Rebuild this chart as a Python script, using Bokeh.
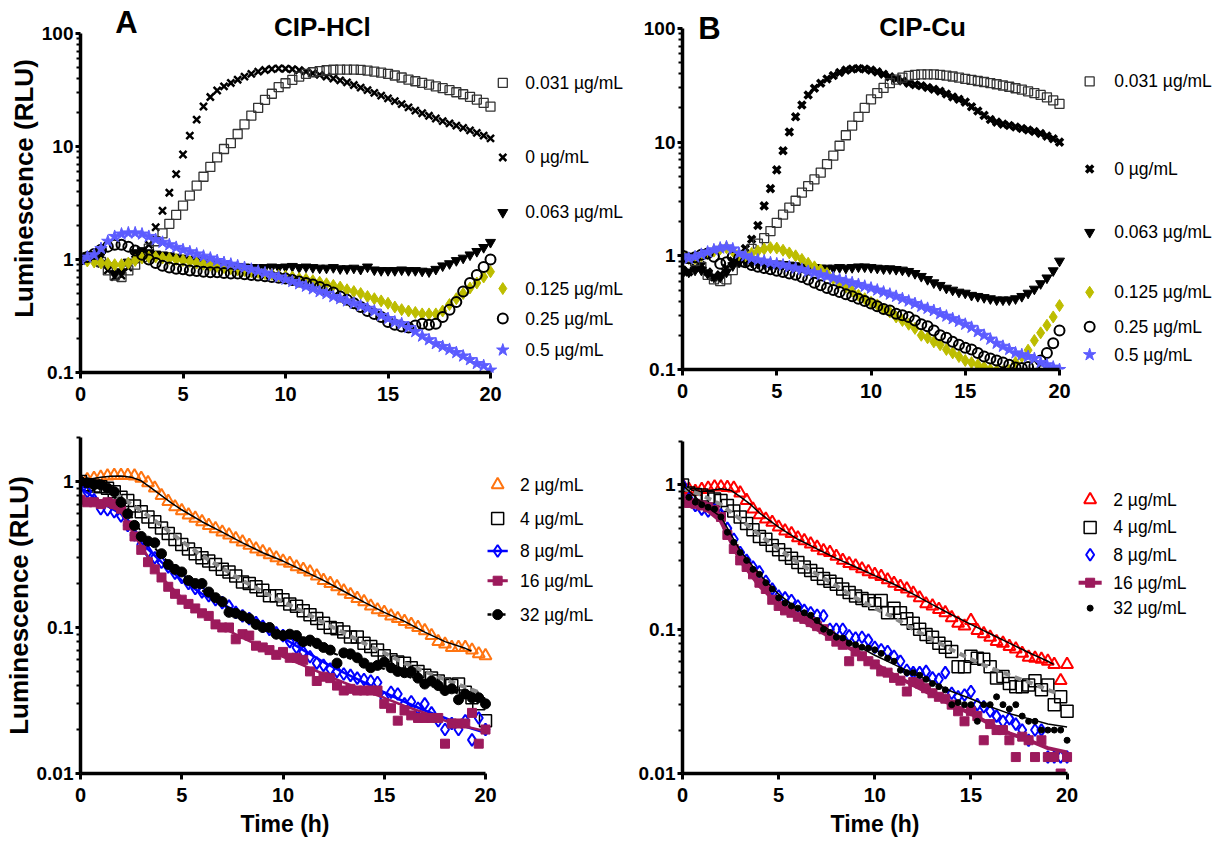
import math
from bokeh.plotting import figure
from bokeh.models import Range1d, FixedTicker, CustomJSTickFormatter, Title
from bokeh.layouts import row, column
from bokeh.embed import file_html
from bokeh.resources import INLINE
from bokeh.core.properties import value

# time grid (h): readings every 20 min
T = [round(i / 3, 4) for i in range(61)]

# ---------------- Panel A (top): CIP-HCl ----------------
a_0 = [1.0,
       1.05, 1.1, 0.92, 0.8, 0.7, 0.72, 0.85, 1.0, 1.15, 1.35, 1.93, 2.7,
       3.9, 5.7, 8.5, 12.5, 17.3, 22.6, 27.4, 31.3, 34, 36.5, 39, 41.5,
       44, 46, 47.5, 48.5, 49, 48.8, 48.3, 47.3, 46, 44.5, 43, 41.5,
       40, 38.5, 37, 35, 33.2, 31.5, 29.8, 28.2, 26.7, 25.2, 23.7, 22.2,
       20.8, 19.7, 18.7, 17.7, 16.8, 16, 15.3, 14.6, 13.9, 13.2, 12.5, 11.8]
a_031 = [1.0,
         1.05, 1.05, 0.95, 0.8, 0.72, 0.7, 0.8, 0.9, 1.05, 1.25, 1.45, 1.7,
         2.07, 2.48, 3.0, 3.68, 4.5, 5.4, 6.6, 8.0, 9.5, 10.7, 12.9, 15.7,
         18.8, 22, 25.9, 29.3, 33.5, 36.3, 38.9, 41.6, 44, 45.4, 46.5, 47.3,
         47.8, 48, 48, 48, 47.6, 47, 46, 45, 44, 42.5, 40.8, 39,
         37.8, 36.5, 35.3, 34, 32.8, 31.5, 30.2, 29, 27.5, 26, 24.3, 22.5]
a_063 = [1.0,
         1.05, 1.1, 1.1, 0.88, 0.75, 0.78, 0.95, 1.15, 1.2, 1.15, 1.12, 1.1,
         1.08, 1.05, 1.03, 1.0, 0.98, 0.95, 0.93, 0.92, 0.9, 0.88, 0.87, 0.86,
         0.85, 0.85, 0.85, 0.86, 0.85, 0.86, 0.87, 0.85, 0.86, 0.85, 0.84, 0.84,
         0.85, 0.83, 0.83, 0.84, 0.82, 0.86, 0.81, 0.8, 0.8, 0.8, 0.81, 0.8,
         0.8, 0.79, 0.78, 0.82, 0.88, 0.92, 0.98, 1.03, 1.1, 1.18, 1.28, 1.42]
a_125 = [1.0,
         0.97, 0.95, 0.93, 0.92, 0.9, 0.9, 0.93, 0.98, 1.03, 1.05, 1.05, 1.03,
         1.02, 1.0, 0.98, 0.96, 0.93, 0.91, 0.89, 0.87, 0.85, 0.83, 0.81, 0.8,
         0.78, 0.77, 0.75, 0.74, 0.72, 0.71, 0.7, 0.68, 0.67, 0.65, 0.63, 0.61,
         0.59, 0.57, 0.54, 0.52, 0.5, 0.47, 0.45, 0.43, 0.41, 0.38, 0.36, 0.35,
         0.34, 0.33, 0.33, 0.33, 0.35, 0.4, 0.45, 0.5, 0.56, 0.62, 0.7, 0.78]
a_25 = [1.0,
        1.05, 1.12, 1.22, 1.3, 1.35, 1.35, 1.3, 1.2, 1.1, 1.0, 0.93, 0.88,
        0.85, 0.83, 0.82, 0.8, 0.79, 0.78, 0.77, 0.77, 0.76, 0.75, 0.75, 0.74,
        0.73, 0.72, 0.71, 0.7, 0.69, 0.68, 0.66, 0.64, 0.62, 0.6, 0.57, 0.54,
        0.51, 0.47, 0.44, 0.41, 0.38, 0.35, 0.33, 0.31, 0.28, 0.265, 0.255, 0.25,
        0.26, 0.27, 0.265, 0.27, 0.31, 0.36, 0.42, 0.52, 0.62, 0.73, 0.86, 1.0]
a_5 = [1.0,
       1.05, 1.1, 1.25, 1.45, 1.6, 1.68, 1.72, 1.72, 1.68, 1.6, 1.5, 1.42,
       1.35, 1.28, 1.22, 1.17, 1.12, 1.07, 1.03, 0.98, 0.94, 0.91, 0.88, 0.85,
       0.82, 0.79, 0.76, 0.73, 0.7, 0.67, 0.64, 0.61, 0.58, 0.55, 0.52, 0.5,
       0.47, 0.45, 0.43, 0.41, 0.39, 0.37, 0.35, 0.32, 0.3, 0.28, 0.27, 0.25,
       0.23, 0.21, 0.195, 0.18, 0.17, 0.16, 0.15, 0.14, 0.13, 0.12, 0.115, 0.105]

# ---------------- Panel B (top): CIP-Cu ----------------
b_0 = [0.75,
       0.72, 0.78, 0.82, 0.72, 0.65, 0.68, 0.78, 0.9, 1.0, 1.16, 1.4, 1.85,
       2.75, 3.9, 5.7, 8.4, 12.3, 16.7, 21.2, 26, 29.8, 33, 36, 38.5,
       41, 43, 44, 44.5, 44, 43, 41.5, 39.5, 37.5, 36, 34.5, 33,
       32, 31.3, 30.3, 29.2, 28, 26.5, 25, 23.8, 22.5, 20.5, 18.8, 17.2,
       15.8, 15, 14.4, 14, 13.6, 13.2, 12.8, 12.4, 11.9, 11.3, 10.7, 10]
b_031 = [1.0,
         0.95, 0.9, 0.8, 0.68, 0.62, 0.6, 0.62, 0.75, 0.88, 1.0, 1.15, 1.28,
         1.43, 1.65, 1.95, 2.3, 2.65, 3.05, 3.6, 4.1, 4.7, 5.4, 6.4, 7.6,
         9.3, 11.5, 14, 16.7, 20, 23.8, 27, 30, 33, 35.5, 37, 38.3,
         39, 39.5, 39.5, 39.5, 39, 38.5, 37.8, 37, 36, 35.3, 34.5, 33.8,
         33, 32.3, 31.5, 30.7, 29.8, 29, 28, 27, 26, 24.8, 23.3, 21.7]
b_063 = [0.7,
         0.72, 0.75, 0.75, 0.7, 0.65, 0.65, 0.72, 0.82, 0.88, 0.9, 0.88, 0.86,
         0.85, 0.84, 0.85, 0.84, 0.83, 0.82, 0.8, 0.79, 0.79, 0.78, 0.78, 0.78,
         0.79, 0.78, 0.79, 0.8, 0.8, 0.79, 0.78, 0.77, 0.77, 0.76, 0.75, 0.73,
         0.7, 0.66, 0.62, 0.58, 0.55, 0.52, 0.5, 0.48, 0.47, 0.45, 0.44, 0.43,
         0.42, 0.41, 0.41, 0.41, 0.42, 0.44, 0.47, 0.51, 0.57, 0.64, 0.74, 0.9]
b_125 = [1.0,
         0.95, 0.95, 1.0, 1.05, 1.1, 1.15, 1.18, 1.1, 1.02, 1.0, 1.05, 1.1,
         1.15, 1.18, 1.17, 1.12, 1.06, 1.0, 0.93, 0.86, 0.8, 0.75, 0.7, 0.63,
         0.58, 0.53, 0.49, 0.45, 0.42, 0.39, 0.37, 0.34, 0.32, 0.29, 0.27, 0.25,
         0.23, 0.2, 0.19, 0.175, 0.165, 0.15, 0.14, 0.13, 0.12, 0.115, 0.11, 0.105,
         0.1, 0.098, 0.096, 0.098, 0.115, 0.13, 0.148, 0.18, 0.21, 0.245, 0.29, 0.365]
b_25 = [1.0,
        0.95, 0.97, 1.02, 1.05, 0.98, 0.85, 0.88, 0.98, 0.95, 0.88, 0.83, 0.8,
        0.78, 0.76, 0.74, 0.72, 0.7, 0.68, 0.65, 0.62, 0.58, 0.55, 0.52, 0.5,
        0.48, 0.46, 0.44, 0.42, 0.4, 0.38, 0.36, 0.34, 0.33, 0.31, 0.3, 0.29,
        0.27, 0.25, 0.24, 0.22, 0.2, 0.19, 0.175, 0.165, 0.155, 0.15, 0.14, 0.13,
        0.125, 0.12, 0.115, 0.11, 0.104, 0.103, 0.105, 0.107, 0.12, 0.14, 0.17, 0.22]
b_5 = [1.0,
       0.95, 0.98, 1.03, 1.08, 1.13, 1.17, 1.2, 1.15, 1.05, 1.0, 0.95, 0.92,
       0.9, 0.87, 0.85, 0.83, 0.8, 0.78, 0.76, 0.73, 0.71, 0.68, 0.66, 0.64,
       0.62, 0.6, 0.58, 0.56, 0.54, 0.52, 0.5, 0.48, 0.46, 0.44, 0.42, 0.4,
       0.38, 0.36, 0.345, 0.33, 0.31, 0.295, 0.28, 0.265, 0.25, 0.235, 0.215, 0.2,
       0.185, 0.17, 0.16, 0.15, 0.14, 0.135, 0.13, 0.125, 0.115, 0.11, 0.105, 0.1]

# ---------------- Panel A (bottom) ----------------
c_2 = [1.0,
       1.03, 1.05, 1.07, 1.09, 1.1, 1.1, 1.1, 1.09, 1.05, 0.98, 0.9, 0.8,
       0.73, 0.67, 0.63, 0.59, 0.56, 0.53, 0.5, 0.475, 0.45, 0.43, 0.405, 0.385,
       0.365, 0.345, 0.33, 0.315, 0.3, 0.285, 0.275, 0.26, 0.25, 0.24, 0.225, 0.21,
       0.2, 0.19, 0.178, 0.168, 0.158, 0.15, 0.14, 0.132, 0.127, 0.12, 0.115, 0.11,
       0.105, 0.1, 0.095, 0.088, 0.08, 0.077, 0.073, 0.073, 0.073, 0.07, 0.066, 0.064]
c_4 = [1.0,
       0.95, 0.93, 0.92, 0.9, 0.85, 0.78, 0.74, 0.68, 0.62, 0.57, 0.53, 0.48,
       0.44, 0.4, 0.37, 0.345, 0.32, 0.3, 0.285, 0.27, 0.25, 0.24, 0.225, 0.205,
       0.2, 0.19, 0.18, 0.165, 0.165, 0.155, 0.145, 0.14, 0.13, 0.122, 0.115, 0.107,
       0.1, 0.098, 0.093, 0.086, 0.086, 0.078, 0.074, 0.07, 0.064, 0.06, 0.058, 0.057,
       0.053, 0.05, 0.047, 0.045, 0.043, 0.041, 0.04, 0.041, 0.036, 0.033, 0.03, 0.023]
c_8 = [0.95,
       0.85, 0.75, 0.65, 0.64, 0.62, 0.58, 0.5, 0.43, 0.37, 0.33, 0.3, 0.28,
       0.26, 0.235, 0.22, 0.2, 0.185, 0.175, 0.165, 0.155, 0.148, 0.14, 0.127, 0.12,
       0.115, 0.108, 0.102, 0.097, 0.092, 0.088, 0.08, 0.073, 0.068, 0.063, 0.057, 0.055,
       0.052, 0.05, 0.048, 0.047, 0.045, 0.044, 0.043, 0.042, 0.033, 0.036, 0.035, 0.03,
       0.031, 0.028, 0.03, 0.026, 0.023, 0.02, 0.022, 0.02, 0.023, 0.017, 0.024, 0.02]
c_16 = [0.75,
        0.72, 0.72, 0.7, 0.72, 0.7, 0.65, 0.5, 0.42, 0.34, 0.28, 0.25, 0.22,
        0.19, 0.17, 0.155, 0.145, 0.135, 0.125, 0.12, 0.105, 0.1, 0.1, 0.083, 0.09,
        0.088, 0.075, 0.073, 0.07, 0.065, 0.068, 0.062, 0.062, 0.06, 0.05, 0.043, 0.046,
        0.045, 0.04, 0.037, 0.038, 0.037, 0.037, 0.037, 0.037, 0.03, 0.028, 0.023, 0.027,
        0.025, 0.024, 0.024, 0.024, 0.024, 0.016, 0.022, 0.022, 0.022, 0.026, 0.016, 0.02]
c_32 = [1.0,
        0.98, 0.95, 0.95, 0.9, 0.85, 0.72, 0.6, 0.5, 0.42, 0.39, 0.38, 0.32,
        0.27, 0.25, 0.24, 0.21, 0.2, 0.2, 0.175, 0.16, 0.15, 0.127, 0.125, 0.12,
        0.115, 0.105, 0.1, 0.1, 0.09, 0.088, 0.09, 0.088, 0.08, 0.082, 0.078, 0.073,
        0.07, 0.057, 0.067, 0.066, 0.062, 0.057, 0.053, 0.055, 0.058, 0.053, 0.05, 0.049,
        0.05, 0.045, 0.041, 0.043, 0.04, 0.037, 0.038, 0.032, 0.035, 0.033, 0.033, 0.03]

# ---------------- Panel B (bottom) ----------------
d_2 = [1.0,
       0.93, 0.9, 0.93, 0.95, 0.97, 0.97, 0.96, 0.95, 0.88, 0.78, 0.68, 0.62,
       0.58, 0.55, 0.51, 0.48, 0.46, 0.43, 0.41, 0.39, 0.37, 0.35, 0.34, 0.32,
       0.3, 0.285, 0.275, 0.262, 0.25, 0.24, 0.232, 0.22, 0.208, 0.198, 0.19, 0.178,
       0.165, 0.15, 0.145, 0.137, 0.13, 0.12, 0.11, 0.105, 0.115, 0.098, 0.093, 0.088,
       0.082, 0.08, 0.076, 0.073, 0.068, 0.064, 0.063, 0.062, 0.06, 0.057, 0.044, 0.057]
d_4 = [1.0,
       0.88, 0.86, 0.85, 0.82, 0.8, 0.78, 0.72, 0.66, 0.6, 0.54, 0.49, 0.44,
       0.42, 0.38, 0.355, 0.33, 0.31, 0.29, 0.27, 0.255, 0.24, 0.225, 0.215, 0.205,
       0.19, 0.18, 0.17, 0.163, 0.158, 0.15, 0.158, 0.13, 0.14, 0.13, 0.118, 0.11,
       0.1, 0.092, 0.088, 0.08, 0.075, 0.07, 0.055, 0.055, 0.065, 0.063, 0.062, 0.055,
       0.046, 0.047, 0.042, 0.04, 0.04, 0.041, 0.044, 0.038, 0.041, 0.03, 0.034, 0.027]
d_8 = [1.0,
       0.8, 0.72, 0.68, 0.66, 0.67, 0.62, 0.5, 0.42, 0.34, 0.3, 0.27, 0.25,
       0.215, 0.19, 0.17, 0.165, 0.158, 0.145, 0.135, 0.13, 0.125, 0.124, 0.1, 0.1,
       0.1, 0.09, 0.087, 0.088, 0.084, 0.075, 0.072, 0.07, 0.065, 0.06, 0.052, 0.05,
       0.05, 0.051, 0.046, 0.045, 0.05, 0.036, 0.034, 0.035, 0.037, 0.03, 0.029, 0.027,
       0.025, 0.023, 0.024, 0.022, 0.02, 0.017, 0.02, 0.02, 0.013, 0.013, 0.013, 0.013]
d_16 = [0.8,
        0.75, 0.74, 0.72, 0.7, 0.67, 0.6, 0.45, 0.36, 0.3, 0.27, 0.24, 0.21,
        0.19, 0.16, 0.145, 0.135, 0.13, 0.122, 0.118, 0.112, 0.105, 0.1, 0.09, 0.082,
        0.078, 0.06, 0.07, 0.065, 0.06, 0.057, 0.051, 0.05, 0.046, 0.044, 0.037, 0.043,
        0.042, 0.039, 0.036, 0.034, 0.033, 0.03, 0.027, 0.023, 0.027, 0.025, 0.017, 0.022,
        0.02, 0.02, 0.017, 0.013, 0.018, 0.017, 0.013, 0.017, 0.013, 0.013, 0.01, 0.013]
d_32 = [1.0,
        0.82, 0.76, 0.73, 0.7, 0.68, 0.6, 0.47, 0.4, 0.34, 0.3, 0.26, 0.24,
        0.21, 0.19, 0.165, 0.152, 0.145, 0.14, 0.13, 0.125, 0.115, 0.1, 0.095, 0.088,
        0.087, 0.08, 0.078, 0.075, 0.074, 0.072, 0.068, 0.063, 0.06, 0.052, 0.05, 0.05,
        0.048, 0.045, 0.042, 0.04, 0.038, 0.03, 0.031, 0.03, 0.03, 0.023, 0.03, 0.03,
        0.034, 0.03, 0.028, 0.03, 0.025, 0.023, 0.023, 0.02, 0.02, 0.02, 0.02, 0.017]

# ---------------- fitted curves (bottom panels) ----------------
TF_H = [0, 0.5, 1, 1.5, 2, 2.5, 3, 3.5, 4, 4.5, 5, 6, 7, 8, 9, 10, 11, 12, 13, 14,
        15, 16, 17, 18, 19, 19.3]
TF = list(range(21))
fit_c2 = [1.0, 1.04, 1.07, 1.085, 1.09, 1.07, 1.01, 0.9, 0.8, 0.71, 0.64, 0.53, 0.45,
          0.38, 0.325, 0.285, 0.245, 0.21, 0.177, 0.149, 0.127, 0.11, 0.093, 0.08, 0.072, 0.069]
fit_c4 = [0.98, 0.9, 0.78, 0.63, 0.5, 0.39, 0.31, 0.255, 0.21, 0.175, 0.15, 0.128, 0.108,
          0.092, 0.078, 0.067, 0.057, 0.05, 0.044, 0.039, 0.036]
fit_c8 = [0.9, 0.72, 0.6, 0.38, 0.28, 0.21, 0.17, 0.145, 0.122, 0.103, 0.085, 0.07, 0.058,
          0.049, 0.042, 0.036, 0.031, 0.027, 0.024, 0.021, 0.019]
fit_c16 = [0.75, 0.72, 0.62, 0.36, 0.22, 0.16, 0.125, 0.1, 0.085, 0.073, 0.063, 0.055, 0.048,
           0.042, 0.037, 0.033, 0.029, 0.026, 0.023, 0.021, 0.0195]
fit_c32 = [1.0, 0.93, 0.75, 0.45, 0.31, 0.23, 0.18, 0.145, 0.12, 0.1, 0.088, 0.078, 0.07,
           0.063, 0.057, 0.052, 0.047, 0.042, 0.038, 0.034, 0.031]
fit_d2 = [1.0, 0.92, 0.9, 0.92, 0.94, 0.92, 0.83, 0.74, 0.64, 0.57, 0.51, 0.42, 0.36,
          0.31, 0.27, 0.235, 0.205, 0.175, 0.148, 0.126, 0.108, 0.093, 0.08, 0.069, 0.06, 0.057]
fit_d4 = [0.95, 0.85, 0.73, 0.58, 0.45, 0.36, 0.29, 0.24, 0.2, 0.165, 0.14, 0.12, 0.1,
          0.085, 0.072, 0.062, 0.054, 0.048, 0.043, 0.038, 0.036]
fit_d16 = [0.8, 0.72, 0.56, 0.3, 0.2, 0.148, 0.12, 0.1, 0.083, 0.07, 0.058, 0.048, 0.041,
           0.035, 0.03, 0.026, 0.022, 0.019, 0.017, 0.015, 0.014]
fit_d32 = [1.0, 0.75, 0.6, 0.35, 0.24, 0.175, 0.138, 0.112, 0.092, 0.078, 0.066, 0.057,
           0.049, 0.043, 0.037, 0.033, 0.029, 0.026, 0.024, 0.022, 0.021]

# ---------------- legends / titles ----------------
top_labels = ["0.031 µg/mL", "0 µg/mL", "0.063 µg/mL", "0.125 µg/mL", "0.25 µg/mL", "0.5 µg/mL"]
bot_labels = ["2 µg/mL", "4 µg/mL", "8 µg/mL", "16 µg/mL", "32 µg/mL"]
legA_y = [36.5, 8.0, 2.61, 0.553, 0.30, 0.158]
legB_y = [34.2, 5.8, 1.61, 0.478, 0.238, 0.135]
legC_y = [0.949, 0.557, 0.334, 0.209, 0.1225]
legD_y = [0.79, 0.507, 0.328, 0.21, 0.14]

FONT = "Liberation Sans"
YELLOW = "#bdbd00"
STAR = "#5c5cff"
ORANGE = "#ff7410"
MAGENTA = "#9c1a5c"
GRAY = "#8a8a8a"

top_minor = [k * 10.0 ** e for e in (-1, 0, 1) for k in range(2, 10)]
bot_minor = [k * 10.0 ** e for e in (-2, -1) for k in range(2, 10)] + [2.0]


def base_fig(width, height, left, top, bottom, xend, yr, ybounds, majors, minors, ystand):
    p = figure(width=width, height=height, x_range=Range1d(0, xend), y_range=Range1d(*yr),
               y_axis_type="log", output_backend="svg", toolbar_location=None,
               min_border_left=left, min_border_right=0, min_border_top=top,
               min_border_bottom=bottom)
    p.outline_line_color = None
    p.xgrid.visible = False
    p.ygrid.visible = False
    p.background_fill_color = "white"
    p.border_fill_color = "white"
    for ax in (p.xaxis[0], p.yaxis[0]):
        ax.axis_line_width = 3.5
        ax.axis_line_color = "black"
        ax.major_tick_line_width = 3
        ax.major_tick_in = 0
        ax.minor_tick_line_width = 2
        ax.minor_tick_out = 4
        ax.minor_tick_in = 0
        ax.major_label_text_font = FONT
        ax.major_label_text_font_style = "bold"
        ax.major_label_text_color = "black"
    xa = p.xaxis[0]
    xa.bounds = (0, 20)
    xa.ticker = FixedTicker(ticks=[0, 5, 10, 15, 20], minor_ticks=[])
    xa.major_label_standoff = 8
    xa.major_tick_out = 6
    xa.major_label_text_font_size = "20px"
    ya = p.yaxis[0]
    ya.bounds = ybounds
    ya.ticker = FixedTicker(ticks=majors, minor_ticks=minors)
    ya.formatter = CustomJSTickFormatter(code="return String(tick)")
    ya.major_label_standoff = ystand
    ya.major_tick_out = 5
    ya.major_label_text_font_size = "19px"
    return p


def title(p, text, side, size, align="center", offset=0, standoff=0):
    p.add_layout(Title(text=text, align=align, offset=offset, standoff=standoff,
                       text_font=FONT, text_font_style="bold", text_font_size=size,
                       text_color="black"), side)


def big_text(p, x, y, text, size):
    p.text(x=[x], y=[y], text=[text], text_font=value(FONT), text_font_style="bold",
           text_font_size=value(size), text_align="center", text_baseline="middle",
           text_color="black")


def leg_text(p, x, ys, labels):
    p.text(x=[x] * len(ys), y=ys, text=labels, text_font=value(FONT),
           text_font_size=value("17.5px"), text_baseline="middle", text_align="left",
           text_color="black")


# ======== top A ========
pa = base_fig(630, 412, 80, 4, 40, 550 / 20.5, (0.1, 180.6), (0.1, 100),
              [0.1, 1, 10, 100], top_minor, 2)
top_specs_a = [
    (a_031, dict(marker="square", size=9, line_color="#333333", line_width=1.3, fill_color=None)),
    (a_0, dict(marker="x", size=10, line_color="black", line_width=2.5)),
    (a_063, dict(marker="inverted_triangle", size=10, color="black")),
    (a_125, dict(marker="diamond", size=12, color=YELLOW)),
    (a_25, dict(marker="circle", size=10, line_color="black", line_width=2, fill_color=None)),
    (a_5, dict(marker="star", size=13, color=STAR)),
]
for ys, kw in [top_specs_a[1], top_specs_a[0]] + top_specs_a[2:]:
    pa.scatter(x=T, y=ys, **kw)
for (ys, kw), ly in zip(top_specs_a, legA_y):
    pa.scatter(x=[20.6], y=[ly], **kw)
leg_text(pa, 21.7, legA_y, top_labels)
big_text(pa, 2.24, 125, "A", "31px")
big_text(pa, 11.8, 115, "CIP-HCl", "26px")
title(pa, "Luminescence (RLU)", "left", "26px", offset=-8)

# ======== top B ========
pb = base_fig(590, 412, 52, 4, 43, 538 / 18.85, (0.1, 162.5), (0.1, 100),
              [0.1, 1, 10, 100], top_minor, 2)
top_specs_b = [
    (b_031, dict(marker="square", size=9, line_color="#333333", line_width=1.3, fill_color=None)),
    (b_0, dict(marker="x", size=10, line_color="black", line_width=3.5)),
    (b_063, dict(marker="inverted_triangle", size=10, color="black")),
    (b_125, dict(marker="diamond", size=12, color=YELLOW)),
    (b_25, dict(marker="circle", size=10, line_color="black", line_width=2, fill_color=None)),
    (b_5, dict(marker="star", size=13, color=STAR)),
]
for ys, kw in [top_specs_b[1], top_specs_b[0]] + top_specs_b[2:]:
    pb.scatter(x=T, y=ys, **kw)
for (ys, kw), ly in zip(top_specs_b, legB_y):
    pb.scatter(x=[21.6], y=[ly], **kw)
leg_text(pb, 22.9, legB_y, top_labels)
big_text(pb, 1.43, 100, "B", "31px")
big_text(pb, 12.73, 104, "CIP-Cu", "26px")

# ======== bottom A ========
pc = base_fig(630, 428, 80, 25, 66, 550 / 20.25, (0.01, 2), (0.01, 2),
              [0.01, 0.1, 1], bot_minor, 2)
s_c2 = dict(marker="triangle", size=12, line_color=ORANGE, line_width=2, fill_color=None)
s_c4 = dict(marker="square", size=12, line_color="black", line_width=1.5, fill_color=None)
s_c8 = dict(marker="diamond", size=12, line_color="blue", line_width=2, fill_color=None)
s_c16 = dict(marker="square", size=9, color=MAGENTA)
s_c32 = dict(marker="circle", size=10, color="black")
pc.scatter(x=T, y=c_2, **s_c2)
pc.line(x=TF_H, y=fit_c2, line_color="black", line_width=1.5)
pc.scatter(x=T, y=c_4, **s_c4)
pc.line(x=TF[:20] + [19.67], y=fit_c4, line_color=GRAY, line_width=4, line_dash="7 5")
pc.scatter(x=T, y=c_8, **s_c8)
pc.line(x=TF, y=fit_c8, line_color="blue", line_width=2.5)
pc.scatter(x=T, y=c_16, **s_c16)
pc.line(x=TF, y=fit_c16, line_color=MAGENTA, line_width=2.5)
pc.scatter(x=T, y=c_32, **s_c32)
pc.line(x=TF, y=fit_c32, line_color="black", line_width=2, line_dash="4 3")
for kw, ly, has_line in zip([s_c2, s_c4, s_c8, s_c16, s_c32], legC_y,
                            [None, None, ("blue", 2.5, "solid"), (MAGENTA, 3, "solid"),
                             ("black", 2.5, "4 3")]):
    if has_line:
        pc.line(x=[20.1, 21.1], y=[ly, ly], line_color=has_line[0], line_width=has_line[1],
                line_dash=has_line[2])
    pc.scatter(x=[20.6], y=[ly], **kw)
leg_text(pc, 21.7, legC_y, bot_labels)
title(pc, "Luminescence (RLU)", "left", "26px", offset=3)
title(pc, "Time (h)", "below", "23px", align="left", offset=160, standoff=8)

# ======== bottom B ========
pd_ = base_fig(590, 428, 50, 29, 65, 540 / 19.3, (0.01, 2), (0.01, 2),
               [0.01, 0.1, 1], bot_minor, 2)
s_d2 = dict(marker="triangle", size=12, line_color="#ff0000", line_width=2, fill_color=None)
s_d4 = dict(marker="square", size=12, line_color="black", line_width=1.5, fill_color=None)
s_d8 = dict(marker="diamond", size=12, line_color="blue", line_width=2, fill_color=None)
s_d16 = dict(marker="square", size=9, color=MAGENTA)
s_d32 = dict(marker="circle", size=6, color="black")
pd_.scatter(x=T, y=d_2, **s_d2)
pd_.line(x=TF_H, y=fit_d2, line_color="black", line_width=1.5)
pd_.scatter(x=T, y=d_4, **s_d4)
pd_.line(x=TF[:20] + [19.5], y=fit_d4, line_color=GRAY, line_width=4, line_dash="7 5")
pd_.scatter(x=T, y=d_8, **s_d8)
pd_.scatter(x=T, y=d_16, **s_d16)
pd_.line(x=TF, y=fit_d16, line_color=MAGENTA, line_width=4)
pd_.scatter(x=T, y=d_32, **s_d32)
pd_.line(x=TF, y=fit_d32, line_color="black", line_width=1.5)
for kw, ly in zip([s_d2, s_d4, s_d8, s_d16, s_d32], legD_y):
    if kw is s_d16:
        pd_.line(x=[20.6, 21.8], y=[ly, ly], line_color=MAGENTA, line_width=4)
    pd_.scatter(x=[21.2], y=[ly], **kw)
leg_text(pd_, 22.4, legD_y, bot_labels)
title(pd_, "Time (h)", "below", "23px", align="left", offset=148, standoff=8)

layout = row(column(pa, pc), column(pb, pd_))
open("out.html", "w").write(file_html(layout, INLINE))
